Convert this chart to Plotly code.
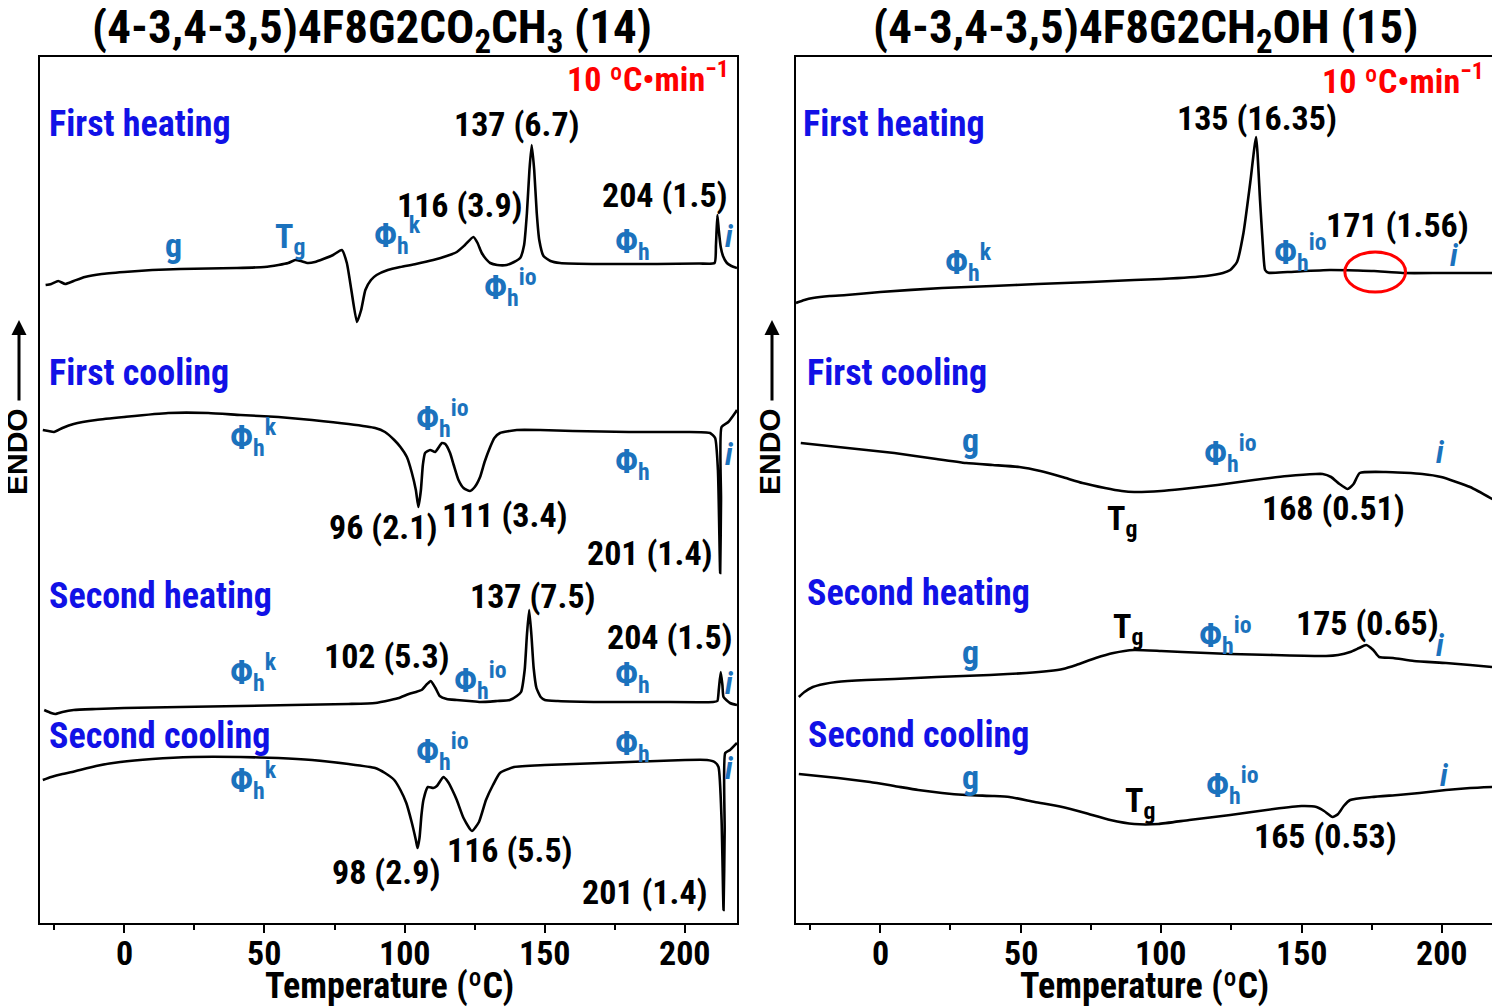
import plotly.graph_objects as go

# ---------------- DATA (temperature in °C, heat flow in a.u., endo up) ----------------
# Left panel: compound 14
L_FH_T = [-28, -26, -23.5, -21, -18, -14, -8, 0, 10, 20, 30, 40, 50, 55, 58.5, 61, 63, 65.5, 68, 71, 74.5, 77.6, 79.4, 81, 83, 84.5, 86, 88, 90, 94, 98.4, 104, 110.2, 115, 118.6, 121.5, 124.5, 126, 127.5, 129, 130.5, 133, 136.4, 139, 141.2, 142.6, 143.6, 144.5, 145.3, 146.2, 147.1, 148, 149.5, 152, 155.4, 170, 190, 205, 210.5, 211, 211.5, 212, 212.7, 213.5, 214.9, 216.5, 218.5]
L_FH_Y = [-21, -20, -17, -20, -17, -13, -10, -8, -6, -5, -4.5, -4, -3, -1, 1, 4, 3, 1, 2, 5, 9, 14, 1, -26, -58, -46, -26, -16, -11, -6, -3, 0, 4, 8, 12, 19, 27, 21, 11, 5, 1, -1, -1, 2, 6, 19, 51, 94, 119, 94, 51, 24, 8, 3, 1, 0, 0, 0.5, 1, 19, 49, 34, 17, 8, 1, -2, -4]

L_FC_T = [-29, -27, -25, -22, -18, -10, 0, 15.7, 30, 41.5, 55, 67, 80, 89.5, 93, 96.3, 98.5, 100.8, 102.5, 104, 104.9, 105.8, 106.5, 107.3, 109.1, 110.9, 113.3, 114.5, 116.2, 117.5, 119.2, 121, 123.3, 125, 126.9, 128.5, 130.5, 132, 134, 140, 148.3, 160, 180, 200, 208.9, 210.7, 211.7, 212.5, 212.8, 213, 215.4, 217.8, 218.5]
L_FC_Y = [3, 2, 1, 5, 9, 13, 16, 20, 20, 18, 16, 13, 9, 5, 1, -7, -14, -24, -39, -57, -74, -57, -32, -20, -17, -19, -10, -11, -20, -32, -47, -55, -58, -54, -44, -29, -14, -5, 0, 3, 3, 2, 1, 1, 0, -5, -37, -140, -67, 6, 11, 20, 23]

L_SH_T = [-28.5, -26, -24.5, -22, -18, -10, 0, 20, 41.5, 60, 80, 89.5, 95, 98, 101.5, 104, 106, 108, 109.3, 111, 112.5, 115, 118.6, 123, 127, 133, 137.5, 140, 141.5, 142.8, 143.6, 144.4, 145.2, 146, 147, 148.5, 150, 154.6, 170, 190, 210, 211.5, 212, 212.7, 213.3, 213.7, 216, 218.5]
L_SH_Y = [-8, -11, -12, -10, -8, -7, -6, -5, -4, -3, -2, -1, 2, 4, 8, 10, 12, 18, 21, 14, 6, 3, 2, 1, 0, 1, 2, 6, 10, 32, 67, 92, 67, 34, 14, 5, 2, 1, 0, 0, 0, 1, 12, 30, 17, 5, -1, -3]

L_SC_T = [-29, -26, -22, -18.5, -10, -1.4, 10, 24.4, 41.5, 55, 67, 80, 89.5, 93, 96.3, 98.5, 100.6, 102.5, 104, 104.6, 105.3, 106, 106.7, 108.3, 110.2, 111.5, 113.8, 115.5, 117, 118.6, 121, 124, 126.5, 129, 131.5, 134, 139, 150, 170, 190, 200, 207.8, 210.5, 211.9, 213, 213.7, 214.1, 214.3, 216, 218.5]
L_SC_Y = [-20, -17, -14, -12, -6, -2, 1, 3, 3, 2, 0, -4, -8, -13, -20, -30, -43, -62, -80, -88, -78, -55, -40, -27, -28, -26, -17, -22, -30, -40, -58, -71, -62, -40, -25, -13, -7, -5, -3, -1, 0, 0, -2, -7, -60, -150, -70, 7, 10, 17]

# Right panel: compound 15
R_FH_T = [-30, -27, -24, -18, -12, 0, 22, 40, 56, 75, 90.4, 100, 116, 122, 124.6, 127, 129.3, 131.7, 133.8, 135.2, 136.2, 137, 138.2, 145, 160, 170, 175.8, 186, 200, 218.5]
R_FH_Y = [-31, -28, -26, -24, -23, -20, -16, -14, -12, -10, -8, -7, -4, -1, 2, 10, 39, 89, 135, 72, 27, 2, -0.7, 0, 2, 1.5, 1, -1, -1, -1]

R_FC_T = [-28.3, -15, 5, 20, 30.6, 40, 49.5, 57, 64.8, 72, 80, 86, 90.4, 100, 107.5, 120, 133, 145, 155, 157.5, 160.5, 163.5, 166.4, 168.5, 170.7, 180, 193, 199.7, 210, 218.5]
R_FC_Y = [31, 27, 21, 15, 11, 9, 7, 3, -3, -9, -14, -17, -18, -17, -15, -11, -6, -2, 0, 0, -3, -10, -15, -10, 1, 2, 0, -3, -13, -26]

R_SH_T = [-29, -27, -24, -20, -15.6, -5, 5, 20, 39, 52, 60, 65, 69.8, 76.7, 83, 90.4, 100, 107.5, 124.6, 140, 158.7, 163, 167.3, 170.5, 173, 175.5, 177.6, 182.6, 190, 201.4, 210, 217.8]
R_SH_Y = [-41, -36, -31, -28, -26, -24, -23, -21, -19, -17, -15, -13, -9, -2, 3, 6, 5, 4, 2, 1, 0, 1, 4, 8, 11, 6, -1, -2, -5, -7, -9, -11]

R_SC_T = [-29, -15, -3.6, 5, 13.5, 22, 30.6, 40, 46, 55, 64.8, 73, 81.9, 90.4, 99, 110, 124.6, 140, 150, 155.3, 158, 161, 163, 165, 167.3, 175, 184.3, 192, 201.4, 210, 217.8]
R_SC_Y = [32, 28, 24, 20, 16, 13, 11, 10, 9, 4, -1, -7, -14, -18, -18, -14, -9, -3, 0, -1, -5, -11, -8, 0, 6, 9, 11, 13, 16, 18, 19]

# vertical stacking offsets of the runs (a.u.)
L_OFFSETS = {"FH": 659, "FC": 490, "SH": 221, "SC": 163}
R_OFFSETS = {"FH": 651, "FC": 449, "SH": 267, "SC": 117}

TITLES = ["(4-3,4-3,5)4F8G2CO<sub>2</sub>CH<sub>3</sub> (14)",
          "(4-3,4-3,5)4F8G2CH<sub>2</sub>OH (15)"]
RUN_LABELS = ["First heating", "First cooling", "Second heating", "Second cooling"]
TICK_VALS = [0, 50, 100, 150, 200]
MINOR_TICK_VALS = [-25, 25, 75, 125, 175]
RATE_TEXT = "10 ºC•min<sup>−1</sup>"
X_TITLE = "Temperature (ºC)"

# ---------------- STYLE / LAYOUT ----------------
FONT = "Liberation Sans Narrow, Arial Narrow, Roboto Condensed, Liberation Sans, Arial"
BLUE = "#1111E6"
PHASE = "#1B72BD"
XR = [-30, 218.5]
YR = [0, 866]
W, H, PAGE = 1492, 1000, 8   # page body margin of the html page


def px_x(px):
    return (px - PAGE) / W


def px_y(py):
    return 1 - (py - PAGE) / H


fig = go.Figure()


def add_curve(T, Y, off, xa, ya):
    fig.add_trace(go.Scatter(x=T, y=[v + off for v in Y], mode="lines",
                             line=dict(color="black", width=2.6, shape="spline", smoothing=0.5),
                             xaxis=xa, yaxis=ya, showlegend=False, hoverinfo="skip"))


add_curve(L_FH_T, L_FH_Y, L_OFFSETS["FH"], "x", "y")
add_curve(L_FC_T, L_FC_Y, L_OFFSETS["FC"], "x", "y")
add_curve(L_SH_T, L_SH_Y, L_OFFSETS["SH"], "x", "y")
add_curve(L_SC_T, L_SC_Y, L_OFFSETS["SC"], "x", "y")
add_curve(R_FH_T, R_FH_Y, R_OFFSETS["FH"], "x2", "y2")
add_curve(R_FC_T, R_FC_Y, R_OFFSETS["FC"], "x2", "y2")
add_curve(R_SH_T, R_SH_Y, R_OFFSETS["SH"], "x2", "y2")
add_curve(R_SC_T, R_SC_Y, R_OFFSETS["SC"], "x2", "y2")

ann = []


def txt(s, x, y, ax="x", color="black", size=34, xanchor="center", italic=False):
    ya = "y" if ax == "x" else "y2"
    ann.append(dict(text=s, x=x, y=y, xref=ax, yref=ya, showarrow=False,
                    xanchor=xanchor, yanchor="middle",
                    font=dict(family=FONT, size=size, color=color, weight="bold",
                              style="italic" if italic else "normal")))


PHI_K = "Φ<sub>h</sub><sup>k</sup>"
PHI_IO = "Φ<sub>h</sub><sup>io</sup>"
PHI = "Φ<sub>h</sub>"
TG = "T<sub>g</sub>"
NUM = 34
RUN = 36
PH = 34

# ---- left panel labels
txt(RATE_TEXT, 216.5, 846, "x", "#FF0000", 34, "right")
txt(RUN_LABELS[0], -27.5, 799, "x", BLUE, RUN, "left")
txt(RUN_LABELS[1], -27.5, 550, "x", BLUE, RUN, "left")
txt(RUN_LABELS[2], -27.5, 327, "x", BLUE, RUN, "left")
txt(RUN_LABELS[3], -27.5, 187, "x", BLUE, RUN, "left")
for s, x, y in [("137 (6.7)", 140.1, 799), ("116 (3.9)", 119.8, 718), ("204 (1.5)", 192.9, 728),
                ("96 (2.1)", 92.3, 396), ("111 (3.4)", 135.8, 408), ("201 (1.4)", 187.5, 370),
                ("137 (7.5)", 145.8, 327), ("102 (5.3)", 93.8, 267), ("204 (1.5)", 194.7, 286),
                ("98 (2.9)", 93.4, 51), ("116 (5.5)", 137.6, 73), ("201 (1.4)", 185.7, 31)]:
    txt(s, x, y, "x", "black", NUM)
for s, x, y in [("g", 17.5, 678), (TG, 59.2, 685), (PHI_K, 97.3, 688), (PHI_IO, 137.6, 636), (PHI, 181.1, 680),
                (PHI_K, 46, 486), (PHI_IO, 113.4, 505), (PHI, 181.1, 460),
                (PHI_K, 46, 251), (PHI_IO, 126.9, 243), (PHI, 181.1, 247),
                (PHI_IO, 113.4, 172), (PHI, 181.1, 178), (PHI_K, 46, 143)]:
    txt(s, x, y, "x", PHASE, PH)
for y in [687, 469, 240, 155]:
    txt("i", 216.0, y, "x", PHASE, 31, italic=True)

# ---- right panel labels
txt(RATE_TEXT, 215.8, 844, "x2", "#FF0000", 34, "right")
txt(RUN_LABELS[0], -28.1, 799, "x2", BLUE, RUN, "left")
txt(RUN_LABELS[1], -26.7, 550, "x2", BLUE, RUN, "left")
txt(RUN_LABELS[2], -26.7, 330, "x2", BLUE, RUN, "left")
txt(RUN_LABELS[3], -26.3, 188, "x2", BLUE, RUN, "left")
for s, x, y in [("135 (16.35)", 134.2, 805), ("171 (1.56)", 184, 698), ("168 (0.51)", 161.2, 415),
                ("175 (0.65)", 173.3, 300), ("165 (0.53)", 158.4, 87)]:
    txt(s, x, y, "x2", "black", NUM)
for s, x, y in [(TG, 86.1, 403), (TG, 88.3, 295), (TG, 92.5, 121)]:
    txt(s, x, y, "x2", "black", NUM)
for s, x, y in [(PHI_K, 31.3, 661), (PHI_IO, 149.5, 671),
                ("g", 32, 483), (PHI_IO, 124.6, 470),
                ("g", 32, 271), (PHI_IO, 122.8, 288),
                ("g", 32, 146), (PHI_IO, 125.3, 138)]:
    txt(s, x, y, "x2", PHASE, PH)
for x, y in [(204.6, 668), (199.3, 471), (199.3, 278), (201, 148)]:
    txt("i", x, y, "x2", PHASE, 31, italic=True)

# ---- x tick labels and axis titles (drawn at the axis' own tick values)
for xa, tcx in [("x", 389), ("x2", 1144)]:
    for v in TICK_VALS:
        ann.append(dict(text=str(v), x=v, y=px_y(953), xref=xa, yref="paper", showarrow=False,
                        xanchor="center", yanchor="middle",
                        font=dict(family=FONT, size=34, color="black", weight="bold")))
    ann.append(dict(text=X_TITLE, x=px_x(tcx), y=px_y(986), xref="paper", yref="paper",
                    showarrow=False, xanchor="center", yanchor="middle",
                    font=dict(family=FONT, size=36, color="black", weight="bold")))

# ---- titles
for s, xc in [(TITLES[0], 372), (TITLES[1], 1145)]:
    ann.append(dict(text=s, x=px_x(xc), y=px_y(30), xref="paper", yref="paper", showarrow=False,
                    xanchor="center", yanchor="middle",
                    font=dict(family=FONT, size=47, color="black", weight="bold")))

# ---- ENDO labels with arrows
for xp in [17, 770]:
    ann.append(dict(text="ENDO", x=px_x(xp), y=px_y(452), xref="paper", yref="paper",
                    showarrow=False, textangle=-90, xanchor="center", yanchor="middle",
                    font=dict(family="Liberation Sans, Arial", size=30, color="black", weight="bold")))
    ann.append(dict(text="", x=px_x(xp + 2), y=px_y(320), xref="paper", yref="paper",
                    showarrow=True, ax=0, ay=82, arrowhead=2, arrowsize=1.0, arrowwidth=3,
                    arrowcolor="black"))

fig.update_layout(annotations=ann)

# red circle on right panel
fig.add_shape(type="circle", xref="x2", yref="y2", x0=165.4, x1=187.0, y0=631, y1=671,
              line=dict(color="#FF0000", width=3))

axis_common = dict(range=XR, showline=True, linewidth=2.2, linecolor="black", mirror=True,
                   ticks="outside", ticklen=8, tickwidth=2, tickcolor="black",
                   tickvals=TICK_VALS, showticklabels=False, showgrid=False, zeroline=False,
                   minor=dict(ticks="outside", ticklen=5, tickwidth=2, tickcolor="black",
                              tickvals=MINOR_TICK_VALS))
yaxis_common = dict(range=YR, showline=True, linewidth=2.2, linecolor="black", mirror=True,
                    showticklabels=False, ticks="", showgrid=False, zeroline=False)

fig.update_layout(
    width=W, height=H, autosize=False,
    margin=dict(l=0, r=0, t=0, b=0),
    paper_bgcolor="white", plot_bgcolor="white",
    xaxis=dict(domain=[px_x(40), px_x(737)], anchor="y", **axis_common),
    yaxis=dict(domain=[px_y(923), px_y(57)], anchor="x", **yaxis_common),
    xaxis2=dict(domain=[px_x(796), px_x(1494)], anchor="y2", **axis_common),
    yaxis2=dict(domain=[px_y(923), px_y(57)], anchor="x2", **yaxis_common),
    showlegend=False,
)

fig.write_html("out.html")
